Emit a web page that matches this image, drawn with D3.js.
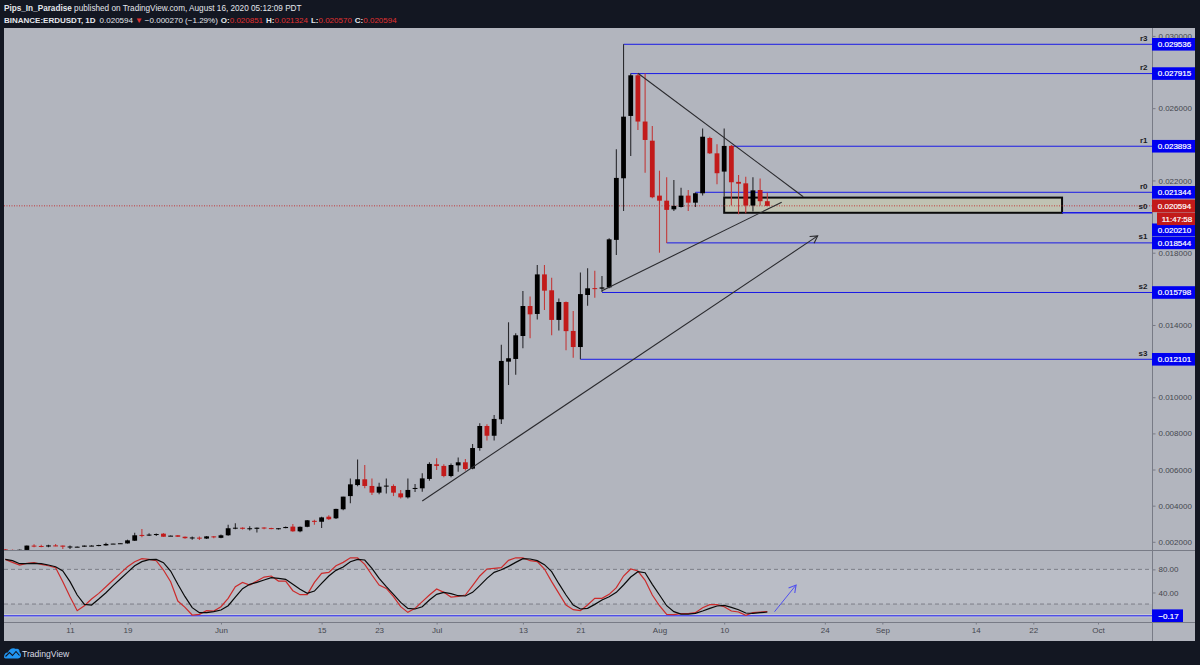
<!DOCTYPE html>
<html>
<head>
<meta charset="utf-8">
<script src="https://cdn.jsdelivr.net/npm/d3@7"></script>
<style>
  body { margin: 0; background: #131722; overflow: hidden; }
  text { font-family: "Liberation Sans", Arial, sans-serif; }
</style>
</head>
<body>
<div id="displaybox"></div>
<script>
// daily candles, 2 May - 16 Aug 2020
let opens = [
  .00158,.00155,.00154,.00155,.00179,.00177,.00174,.00180,.00179,.00172,
  .00172,.00173,.00178,.00178,.00180,.00189,.00190,.00191,.00206,.00238,
  .00238,.00238,.00245,.00233,.00236,.00228,.00220,.00223,.00218,.00230,
  .00222,.00236,.00274,.00278,.00272,.00272,.00279,.00276,.00272,.00276,
  .00284,.00258,.00283,.00316,.00311,.00339,.00330,.00380,.00453,.00514,
  .00546,.00509,.00472,.00508,.00509,.00468,.00446,.00493,.00496,.00548,
  .00629,.00620,.00564,.00623,.00640,.00605,.00719,.00841,.00787,.00878,
  .01197,.01212,.01339,.01505,.01461,.01680,.01592,.01428,.01527,.01367,
  .01278,.01566,.01604,.01601,.01608,.01871,.02212,.02557,.02782,.02526,.02420,
  .02116,.02088,.02040,.02053,.02116,.02077,.02129,.02435,.02350,.02249,.02391,.02192,.02184,.02061,.02147,.020851
];
let highs = [
  .00160,.00157,.00157,.00180,.00186,.00184,.00184,.00188,.00180,.00180,
  .00174,.00180,.00181,.00183,.00195,.00191,.00193,.00212,.00250,.00271,
  .00247,.00246,.00248,.00235,.00237,.00230,.00230,.00230,.00232,.00232,
  .00240,.00295,.00302,.00280,.00286,.00279,.00280,.00278,.00276,.00284,
  .00299,.00284,.00321,.00322,.00338,.00347,.00383,.00450,.00551,.00656,
  .00625,.00551,.00527,.00551,.00518,.00487,.00551,.00520,.00579,.00640,
  .00662,.00629,.00634,.00666,.00658,.00741,.00856,.00850,.00902,.01291,
  .01415,.01354,.01588,.01557,.01732,.01732,.01662,.01546,.01530,.01477,
  .01691,.01714,.01700,.01671,.01880,.02372,.02954,.02792,.02792,.02792,.02501,
  .02254,.02217,.02203,.02160,.02147,.02133,.02488,.02442,.02400,.02488,.02396,.02230,.02221,.02217,.02211,.021324
];
let lows = [
  .00153,.00153,.00152,.00155,.00170,.00170,.00170,.00176,.00160,.00160,
  .00170,.00172,.00176,.00176,.00178,.00189,.00190,.00190,.00205,.00225,
  .00232,.00232,.00228,.00232,.00226,.00217,.00212,.00210,.00216,.00220,
  .00220,.00233,.00269,.00268,.00263,.00252,.00270,.00270,.00268,.00275,
  .00255,.00253,.00280,.00295,.00276,.00321,.00326,.00375,.00413,.00508,
  .00496,.00459,.00463,.00468,.00453,.00439,.00439,.00476,.00477,.00538,
  .00597,.00557,.00557,.00588,.00594,.00601,.00704,.00760,.00760,.00852,
  .01068,.01125,.01271,.01326,.01431,.01483,.01343,.01369,.01260,.01219,
  .01210,.01507,.01551,.01583,.01603,.01788,.02031,.02335,.02479,.02243,.02101,
  .01800,.01854,.02031,.02050,.02031,.02053,.02116,.02346,.02179,.02110,.02061,.02013,.02018,.02028,.02061,.020570
];
let closes = [
  .00155,.00154,.00156,.00179,.00177,.00176,.00180,.00178,.00173,.00174,
  .00173,.00179,.00179,.00182,.00188,.00190,.00192,.00208,.00236,.00237,
  .00240,.00243,.00228,.00234,.00228,.00220,.00224,.00220,.00230,.00226,
  .00236,.00275,.00278,.00272,.00275,.00278,.00274,.00273,.00275,.00282,
  .00258,.00283,.00319,.00313,.00335,.00325,.00382,.00450,.00518,.00546,
  .00509,.00472,.00505,.00511,.00472,.00446,.00487,.00498,.00551,.00631,
  .00620,.00564,.00625,.00640,.00603,.00719,.00841,.00787,.00880,.01201,
  .01216,.01343,.01505,.01459,.01680,.01590,.01428,.01527,.01366,.01278,
  .01571,.01603,.01601,.01608,.01874,.02214,.02553,.02782,.02526,.02424,.02107,
  .02088,.02037,.02059,.02116,.02077,.02129,.02442,.02350,.02240,.02391,.02190,.02182,.02061,.02145,.02085,.020594
];

// stoch rsi, same days
let stochK = [
  97.3,92.1,87.5,90.4,91.5,88.7,86.3,82.9,58.7,32.7,
  8.5,17.1,28.7,38.5,50,61.5,73.1,84.6,93.3,98.5,
  97.3,95,78.8,58.7,25.2,14.3,1,2.1,8.5,7.9,
  15.4,29.8,50,57.5,52.9,59.8,66.7,68.5,59.8,59.8,
  43.1,36.2,36.2,57.5,73.1,74.8,86.3,92.1,100,100,
  88.7,70.2,52.9,47.1,32.7,15.4,5.6,12.5,24.1,35.6,
  46,40.2,32.1,33.3,35.6,51.8,68.5,80.6,81.7,82.9,
  95.6,100,100,95,93.3,80.6,58.7,38.5,18.3,10.2,
  8.5,18.3,29.8,29.8,36.8,48.3,68.5,80.6,77.1,61,35.6,
  17.1,2.1,1.6,3.3,3.3,5,13.7,18.9,18.9,15.4,7.9,6.2,0.4,5,6.2,6.8
];
let stochD = [
  97.3,95,89.8,89.8,90.4,89.8,87.5,84.6,77.1,58.7,
  35.6,19.4,18.3,28.7,39.6,51.8,63.3,74.8,86.3,93.3,
  96.7,97.3,91.5,77.1,54.1,32.7,13.7,5,5,6.8,
  9.6,17.1,32.1,46.6,54.1,57.5,61.5,65.6,64.4,62.7,
  54.1,45.4,38.5,42.5,55.8,68.5,78.3,84,93.3,97.3,
  96.2,81.7,64.4,50,36.8,22.9,12.5,11.4,15.4,26.9,
  36.8,40.2,37.9,34.4,33.9,40.2,51.8,64.4,74.8,79.4,
  85.2,92.1,98.5,97.9,95,88.1,76,55.2,35.6,18.3,
  11.4,12.5,19.4,26.9,32.7,40.2,52.9,66.7,76,74.2,54.1,
  35.6,17.1,6.8,2.7,2.7,3.9,7.9,12.5,16.6,17.7,14.3,10.2,4.5,3.9,5,6.2
];

// the other round ticks sit behind the level tags
let priceTicks = [.002,.004,.006,.008,.010,.014,.018,.022,.026,.030];
let stochTicks = [80, 40];
let timeTicks = ["2020-05-11","2020-05-19","2020-06-01","2020-06-15","2020-06-23","2020-07-01","2020-07-13",
  "2020-07-21","2020-08-01","2020-08-10","2020-08-24","2020-09-01","2020-09-14","2020-09-22","2020-10-01"];
let timeLabels = ["11","19","Jun","15","23","Jul","13","21","Aug","10","24","Sep","14","22","Oct"];

// pivot levels: name, price, first day
let levelNames = ["r3","r2","r1","r0","s0","s1","s2","s3"];
let levelPrices = [.029536,.027915,.023893,.021344,.020210,.018544,.015798,.012101];
let levelStarts = ["2020-07-27","2020-07-28","2020-08-11","2020-08-06","2020-08-10","2020-08-02","2020-07-24","2020-07-21"];
let lastPrice = .020594;
let stochLast = -0.17;

// hand drawn lines on the chart
let trendLines = [
  {from: ["2020-06-29", .00426], to: ["2020-08-23", .01893], arrow: true},
  {from: ["2020-07-24", .01590], to: ["2020-08-18", .02079], arrow: false},
  {from: ["2020-07-29", .02793], to: ["2020-08-21", .02110], arrow: false}
];
let boxDays = ["2020-08-10", "2020-09-26"];
let boxPrices = [.02105, .02021];
let stochArrow = {from: ["2020-08-17", 6.7], to: ["2020-08-20", 52.9]};

const RED = "#c21a1a", BLACK = "#000000", BLUE = "#1a1ae6", AXIS = "#787b86", LABEL = "#45474f";
const SMALL = 8;

let days = d3.utcDay.range(new Date(Date.UTC(2020, 4, 2)), new Date(Date.UTC(2020, 7, 17)));
let candles = days.map((d, i) => ({date: d, o: opens[i], h: highs[i], l: lows[i], c: closes[i]}));
let day = s => new Date(s + "T00:00:00Z");

let panel = {left: 4, right: 1195, top: 28, bottom: 641, axisX: 1152, mainBottom: 550, stochBottom: 622};

let x = d3.scaleUtc().domain([day("2020-05-11"), day("2020-10-01")]).range([70, 1098]);
let y = d3.scaleLinear().domain([.002, .030]).range([541.8, 35.9]);
let yStoch = d3.scaleLinear().domain([0, 100]).range([615.6, 557.8]);

let svg = d3.select("#displaybox").append("svg")
    .attr("width", 1200)
    .attr("height", 665)
    .style("display", "block");

let defs = svg.append("defs");
defs.append("clipPath").attr("id", "mainclip").append("rect")
    .attr("x", panel.left).attr("y", panel.top)
    .attr("width", panel.axisX - panel.left).attr("height", panel.mainBottom - panel.top);
[["arrowblack", "#2a2a2e"], ["arrowblue", "#5050ee"]].forEach(([id, color]) => {
  defs.append("marker").attr("id", id)
      .attr("viewBox", "-8 -5 10 10").attr("refX", 0).attr("refY", 0)
      .attr("markerWidth", 10).attr("markerHeight", 10).attr("orient", "auto")
      .attr("markerUnits", "userSpaceOnUse")
    .append("path").attr("d", "M-7,-4L0,0L-7,4").attr("fill", "none")
      .attr("stroke", color).attr("stroke-width", 1.1);
});

// panel background
svg.append("rect")
    .attr("x", panel.left).attr("y", panel.top)
    .attr("width", panel.right - panel.left).attr("height", panel.bottom - panel.top)
    .attr("fill", "#b2b5be");

let main = svg.append("g").attr("clip-path", "url(#mainclip)");

// support box under the candles
main.append("rect")
    .attr("x", x(day(boxDays[0]))).attr("y", y(boxPrices[0]))
    .attr("width", x(day(boxDays[1])) - x(day(boxDays[0])))
    .attr("height", y(boxPrices[1]) - y(boxPrices[0]))
    .attr("fill", "#c0c3b3").attr("stroke", "#0a0a0a").attr("stroke-width", 2);

// pivot levels
levelNames.forEach((name, i) => {
  if (name !== "s0") {
    main.append("line")
        .attr("x1", x(day(levelStarts[i]))).attr("x2", panel.axisX)
        .attr("y1", y(levelPrices[i])).attr("y2", y(levelPrices[i]))
        .attr("stroke", BLUE).attr("stroke-width", 1);
  } else {
    // s0 only shows past the box, its left part is the box edge
    main.append("line")
        .attr("x1", x(day(boxDays[1]))).attr("x2", panel.axisX)
        .attr("y1", y(levelPrices[i])).attr("y2", y(levelPrices[i]))
        .attr("stroke", BLUE).attr("stroke-width", 1.4);
  }
  svg.append("text")
      .attr("x", 1147.5).attr("y", y(levelPrices[i]) - 3.4)
      .attr("text-anchor", "end")
      .attr("font-size", SMALL).attr("font-weight", "bold").attr("fill", "#1a1a1e")
      .text(name);
});

// last price dotted line
main.append("line")
    .attr("x1", panel.left).attr("x2", panel.axisX)
    .attr("y1", y(lastPrice)).attr("y2", y(lastPrice))
    .attr("stroke", RED).attr("stroke-width", 0.8).attr("stroke-dasharray", "1 1.5");

// candles
let candleGroup = main.selectAll(".candle").data(candles).enter().append("g").attr("class", "candle");
candleGroup.append("line")
    .attr("x1", d => x(d.date)).attr("x2", d => x(d.date))
    .attr("y1", d => y(d.h)).attr("y2", d => y(d.l))
    .attr("stroke", d => d.c >= d.o ? "#2a2a2e" : "#c23a3a").attr("stroke-width", 1.1);
candleGroup.append("rect")
    .attr("x", d => x(d.date) - 2.4).attr("width", 4.8)
    .attr("y", d => y(Math.max(d.o, d.c)))
    .attr("height", d => Math.max(1, Math.abs(y(d.o) - y(d.c))))
    .attr("fill", d => d.c >= d.o ? BLACK : RED);

// trend lines
trendLines.forEach(t => {
  main.append("line")
      .attr("x1", x(day(t.from[0]))).attr("y1", y(t.from[1]))
      .attr("x2", x(day(t.to[0]))).attr("y2", y(t.to[1]))
      .attr("stroke", "#2a2a2e").attr("stroke-width", 1.1)
      .attr("marker-end", t.arrow ? "url(#arrowblack)" : null);
});

// stoch pane
svg.append("rect")
    .attr("x", panel.left).attr("width", panel.axisX - panel.left)
    .attr("y", yStoch(80)).attr("height", yStoch(20) - yStoch(80))
    .attr("fill", "#babdc6");
[80, 20].forEach(v => {
  svg.append("line")
      .attr("x1", panel.left).attr("x2", panel.axisX)
      .attr("y1", yStoch(v)).attr("y2", yStoch(v))
      .attr("stroke", "#6e7078").attr("stroke-dasharray", "4 3").attr("stroke-width", 0.8);
});
svg.append("line")
    .attr("x1", panel.left).attr("x2", panel.axisX)
    .attr("y1", yStoch(stochLast)).attr("y2", yStoch(stochLast))
    .attr("stroke", "#d0d2da").attr("stroke-width", 3);
svg.append("line")
    .attr("x1", panel.left).attr("x2", panel.axisX)
    .attr("y1", yStoch(stochLast)).attr("y2", yStoch(stochLast))
    .attr("stroke", "#5050e6").attr("stroke-width", 1.4);

let stochLine = d3.line().x((d, i) => x(days[i])).y(d => yStoch(d));
let stochGroup = svg.append("g");
stochGroup.append("path").attr("d", stochLine(stochK))
    .attr("fill", "none").attr("stroke", "#cc2b2b").attr("stroke-width", 1.2);
stochGroup.append("path").attr("d", stochLine(stochD))
    .attr("fill", "none").attr("stroke", "#0a0a0a").attr("stroke-width", 1.2);

svg.append("line")
    .attr("x1", x(day(stochArrow.from[0]))).attr("y1", yStoch(stochArrow.from[1]))
    .attr("x2", x(day(stochArrow.to[0]))).attr("y2", yStoch(stochArrow.to[1]))
    .attr("stroke", "#5050ee").attr("stroke-width", 1)
    .attr("marker-end", "url(#arrowblue)");

// pane separators
[panel.mainBottom, panel.stochBottom].forEach(v => {
  svg.append("line")
      .attr("x1", panel.left).attr("x2", panel.right)
      .attr("y1", v + .5).attr("y2", v + .5)
      .attr("stroke", AXIS).attr("stroke-width", 1);
});

// axes
function styleAxis(g) {
  g.select(".domain").remove();
  g.selectAll(".tick line").attr("stroke", AXIS);
  g.selectAll(".tick text").attr("fill", LABEL).style("font-size", SMALL + "px");
}
svg.append("g")
    .attr("transform", `translate(${panel.axisX + .5}, 0)`)
    .call(d3.axisRight(y).tickValues(priceTicks).tickFormat(d3.format(".6f")).tickSize(3).tickPadding(3))
    .call(styleAxis);
svg.append("g")
    .attr("transform", `translate(${panel.axisX + .5}, 0)`)
    .call(d3.axisRight(yStoch).tickValues(stochTicks).tickFormat(d3.format(".2f")).tickSize(3).tickPadding(3))
    .call(styleAxis);
svg.append("line")
    .attr("x1", panel.axisX + .5).attr("x2", panel.axisX + .5)
    .attr("y1", panel.top).attr("y2", panel.bottom)
    .attr("stroke", AXIS).attr("stroke-width", 1);

svg.append("g")
    .attr("transform", `translate(0, ${panel.stochBottom + .5})`)
    .call(d3.axisBottom(x).tickValues(timeTicks.map(day))
      .tickFormat((d, i) => timeLabels[i]).tickSize(2).tickPadding(3))
    .call(styleAxis);

// price tags on the axis
function tag(text, cy, fill, left, right) {
  svg.append("rect")
      .attr("x", left).attr("width", right - left)
      .attr("y", cy - 6.3).attr("height", 12.6)
      .attr("fill", fill);
  svg.append("text")
      .attr("x", (left + right) / 2 + 1).attr("y", cy + 2.9)
      .attr("text-anchor", "middle")
      .attr("font-size", SMALL).attr("fill", "#ffffff")
      .attr("stroke", "#ffffff").attr("stroke-width", 0.2)
      .text(text);
}
let fmt = d3.format(".6f");
levelNames.forEach((name, i) => {
  let cy = name === "s0" ? y(levelPrices[i]) + 17 : y(levelPrices[i]);
  tag(fmt(levelPrices[i]), cy, "#0000f0", panel.axisX, panel.right);
});
tag(fmt(lastPrice), y(lastPrice), RED, panel.axisX, panel.right);
tag("11:47:58", 218.8, RED, 1157, panel.right);
tag("\u22120.17", yStoch(stochLast), "#0000f0", panel.axisX, 1183);

// header text
let header = svg.append("g").attr("fill", "#e4e6ec");
let top1 = header.append("text").attr("x", 4).attr("y", 11).attr("font-size", 8.2);
top1.append("tspan").attr("font-weight", "bold").text("Pips_In_Paradise");
top1.append("tspan").text(" published on TradingView.com, August 16, 2020 05:12:09 PDT");

let top2 = header.append("text").attr("x", 4).attr("y", 22.5).attr("font-size", 8);
top2.append("tspan").attr("font-weight", "bold").text("BINANCE:ERDUSDT, 1D");
top2.append("tspan").attr("dx", 4).text("0.020594");
top2.append("tspan").attr("dx", 2).attr("fill", "#e03131").attr("font-size", 8).text("\u25BC");
top2.append("tspan").attr("dx", 2).text("\u22120.000270 (\u22121.29%)");
[["O:", "0.020851"], ["H:", "0.021324"], ["L:", "0.020570"], ["C:", "0.020594"]].forEach(([k, v], i) => {
  top2.append("tspan").attr("dx", 3).attr("font-weight", "bold").text(k);
  top2.append("tspan").attr("fill", "#e03131").text(v);
});

// footer logo
let logo = svg.append("g").attr("transform", "translate(4, 647)");
logo.append("path")
    .attr("d", "M0,10 C0,7 2,5 4,5.5 C5,2 9,0 12,2 C14,1 16,3 15.5,5 C17,6 17.5,8 16.5,10 C16,11.5 14,11.5 13,11.5 L3,11.5 C1,11.5 0,11 0,10 Z")
    .attr("fill", "#2196f3");
logo.append("path")
    .attr("d", "M1.5,9.5 L5.5,5.5 L8.5,8.5 L12,4.5 L15.5,8.5")
    .attr("fill", "none").attr("stroke", "#131722").attr("stroke-width", 1.1);
svg.append("text")
    .attr("x", 22).attr("y", 656.5)
    .attr("font-size", 8.6).attr("fill", "#d8dbe2")
    .text("TradingView");
</script>
</body>
</html>
